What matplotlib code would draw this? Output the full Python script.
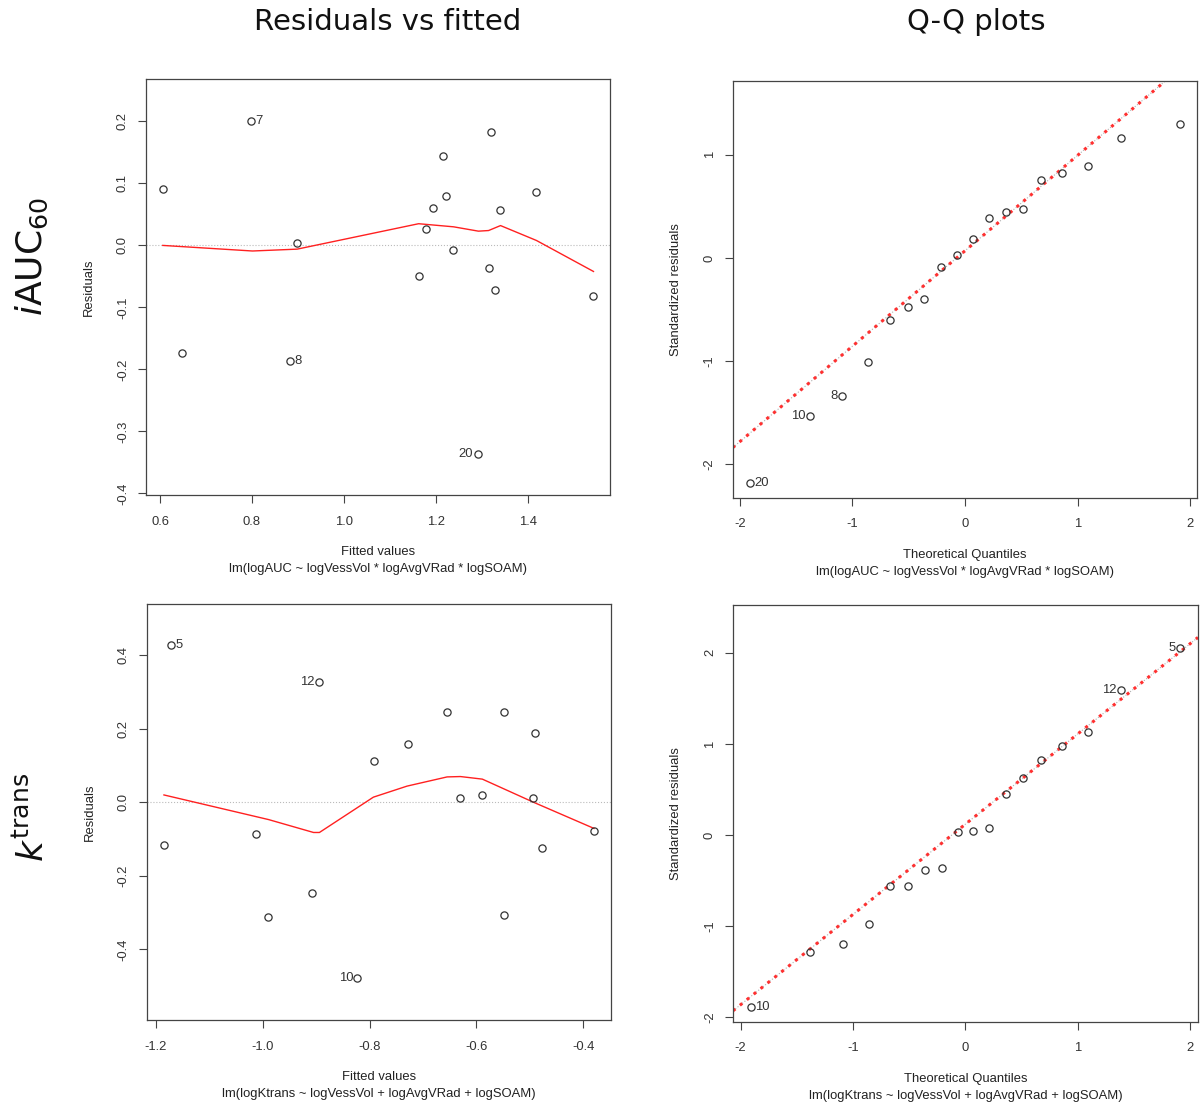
import numpy as np
import matplotlib
matplotlib.use('Agg')
import matplotlib.pyplot as plt
from matplotlib.ticker import FixedLocator, FormatStrFormatter

# iAUC60 model: fitted values, residuals and lowess smooth
auc_fitted = [0.606, 0.648, 0.798, 0.883, 0.898, 1.162, 1.177, 1.194, 1.216,
              1.221, 1.236, 1.290, 1.314, 1.320, 1.327, 1.339, 1.418, 1.542]
auc_resid = [0.091, -0.173, 0.200, -0.186, 0.004, -0.049, 0.026, 0.060, 0.144,
             0.079, -0.008, -0.336, -0.036, 0.183, -0.072, 0.057, 0.086, -0.081]
auc_smooth_x = [0.606, 0.801, 0.898, 1.162, 1.238, 1.292, 1.314, 1.340, 1.418, 1.542]
auc_smooth_y = [0.000, -0.009, -0.006, 0.035, 0.030, 0.023, 0.024, 0.032, 0.008, -0.042]
auc_resid_ids = [(2, '7', 'right'), (3, '8', 'right'), (11, '20', 'left')]

# iAUC60 model: normal Q-Q
theo_q = [-1.91, -1.38, -1.09, -0.86, -0.67, -0.51, -0.36, -0.21, -0.07,
          0.07, 0.21, 0.36, 0.51, 0.67, 0.86, 1.09, 1.38, 1.91]
auc_std_resid = [-2.178, -1.529, -1.333, -1.004, -0.600, -0.471, -0.400, -0.090, 0.026,
                 0.184, 0.387, 0.445, 0.474, 0.758, 0.823, 0.894, 1.159, 1.300]
auc_qq_line = (0.069, 0.925)  # intercept, slope
auc_qq_ids = [(0, '20', 'right'), (1, '10', 'left'), (2, '8', 'left')]

# Ktrans model: fitted values, residuals and lowess smooth
kt_fitted = [-1.171, -1.185, -1.012, -0.990, -0.908, -0.895, -0.823, -0.791, -0.728,
             -0.656, -0.630, -0.589, -0.548, -0.548, -0.490, -0.495, -0.477, -0.380]
kt_resid = [0.427, -0.117, -0.085, -0.313, -0.247, 0.326, -0.478, 0.112, 0.158,
            0.246, 0.011, 0.019, -0.307, 0.246, 0.188, 0.013, -0.125, -0.077]
kt_smooth_x = [-1.185, -0.989, -0.905, -0.894, -0.793, -0.730, -0.655, -0.630,
               -0.589, -0.493, -0.380]
kt_smooth_y = [0.020, -0.047, -0.082, -0.082, 0.014, 0.044, 0.069, 0.070,
               0.063, 0.000, -0.071]
kt_resid_ids = [(0, '5', 'right'), (5, '12', 'left'), (6, '10', 'left')]

# Ktrans model: normal Q-Q
kt_std_resid = [-1.882, -1.279, -1.199, -0.972, -0.556, -0.556, -0.384, -0.362, 0.033,
                0.050, 0.073, 0.453, 0.628, 0.829, 0.975, 1.129, 1.589, 2.053]
kt_qq_line = (0.12, 0.99)
kt_qq_ids = [(0, '10', 'right'), (16, '12', 'left'), (17, '5', 'left')]

auc_formula = 'lm(logAUC ~ logVessVol * logAvgVRad * logSOAM)'
kt_formula = 'lm(logKtrans ~ logVessVol + logAvgVRad + logSOAM)'

R_FONT = 'Liberation Sans'
INK = '#333333'
FS = 9.4


def style_axes(ax, xticks, yticks, xfmt, yfmt, xlim, ylim):
    ax.set_xlim(*xlim)
    ax.set_ylim(*ylim)
    for s in ax.spines.values():
        s.set_color('#444444')
        s.set_linewidth(0.9)
    ax.xaxis.set_major_locator(FixedLocator(xticks))
    ax.yaxis.set_major_locator(FixedLocator(yticks))
    ax.xaxis.set_major_formatter(FormatStrFormatter(xfmt))
    ax.yaxis.set_major_formatter(FormatStrFormatter(yfmt))
    ax.tick_params(axis='both', direction='out', length=5.8, width=0.8,
                   color='#444444', labelcolor=INK, labelsize=FS)
    ax.tick_params(axis='x', pad=9)
    ax.tick_params(axis='y', pad=6.5, labelrotation=90)
    for lab in ax.get_xticklabels() + ax.get_yticklabels():
        lab.set_fontfamily(R_FONT)
    for lab in ax.get_yticklabels():
        lab.set_verticalalignment('center')


def axis_titles(ax, xlab, sub, ylab):
    kw = dict(xycoords='axes fraction', textcoords='offset points',
              ha='center', va='center', fontsize=FS, color='#222222',
              family=R_FONT)
    ax.annotate(xlab, (0.5, 0), xytext=(0, -41), **kw)
    ax.annotate(sub, (0.5, 0), xytext=(0, -53.3), **kw)
    ax.annotate(ylab, (0, 0.5), xytext=(-41, 0), rotation=90, **kw)


def point_ids(ax, x, y, ids):
    for i, txt, side in ids:
        dx = 3 if side == 'right' else -3
        ax.annotate(txt, (x[i], y[i]), xytext=(dx, 0), textcoords='offset points',
                    ha='left' if side == 'right' else 'right', va='center',
                    fontsize=FS, color=INK, family=R_FONT)


def resid_panel(ax, fx, r, sx, sy, ids):
    ax.axhline(0, color='#bbbbbb', linestyle=':', linewidth=0.8, zorder=1)
    ax.plot(fx, r, 'o', mfc='none', mec=INK, ms=5.2, mew=0.9, zorder=3)
    ax.plot(sx, sy, '-', color='#ff2020', linewidth=1.0, zorder=2)
    point_ids(ax, fx, r, ids)


def qq_panel(ax, q, sr, line, ids):
    a, b = line
    ax.axline((0, a), slope=b, color='#b0b0b0', linestyle=':', linewidth=0.8, zorder=1)
    ax.axline((0, a), slope=b, color='#ff3030', linewidth=2.2,
              linestyle=(0, (1, 1.9)), zorder=2)
    ax.plot(q, sr, 'o', mfc='none', mec=INK, ms=5.2, mew=0.9, zorder=3)
    point_ids(ax, q, sr, ids)


fig = plt.figure(figsize=(12.03, 11.07), dpi=100)

ax_tl = fig.add_axes([0.1214, 0.5526, 0.3857, 0.3758])
ax_tr = fig.add_axes([0.6091, 0.5504, 0.3862, 0.3764])
ax_bl = fig.add_axes([0.1219, 0.0786, 0.3860, 0.3758])
ax_br = fig.add_axes([0.6093, 0.0771, 0.3865, 0.3764])

resid_panel(ax_tl, auc_fitted, auc_resid, auc_smooth_x, auc_smooth_y, auc_resid_ids)
style_axes(ax_tl, [0.6, 0.8, 1.0, 1.2, 1.4], [-0.4, -0.3, -0.2, -0.1, 0.0, 0.1, 0.2],
           '%.1f', '%.1f', (0.5696, 1.578), (-0.403, 0.268))
axis_titles(ax_tl, 'Fitted values', auc_formula, 'Residuals')

qq_panel(ax_tr, theo_q, auc_std_resid, auc_qq_line, auc_qq_ids)
style_axes(ax_tr, [-2, -1, 0, 1, 2], [-2, -1, 0, 1], '%d', '%d',
           (-2.062, 2.062), (-2.323, 1.713))
axis_titles(ax_tr, 'Theoretical Quantiles', auc_formula, 'Standardized residuals')

resid_panel(ax_bl, kt_fitted, kt_resid, kt_smooth_x, kt_smooth_y, kt_resid_ids)
style_axes(ax_bl, [-1.2, -1.0, -0.8, -0.6, -0.4], [-0.4, -0.2, 0.0, 0.2, 0.4],
           '%.1f', '%.1f', (-1.2174, -0.3482), (-0.5916, 0.539))
axis_titles(ax_bl, 'Fitted values', kt_formula, 'Residuals')

qq_panel(ax_br, theo_q, kt_std_resid, kt_qq_line, kt_qq_ids)
style_axes(ax_br, [-2, -1, 0, 1, 2], [-2, -1, 0, 1, 2], '%d', '%d',
           (-2.068, 2.069), (-2.046, 2.524))
axis_titles(ax_br, 'Theoretical Quantiles', kt_formula, 'Standardized residuals')

# column headings and row labels
fig.text(388 / 1203, 1 - 22 / 1107, 'Residuals vs fitted', ha='center', va='center',
         fontsize=21, family='DejaVu Sans', color='#111111')
fig.text(976 / 1203, 1 - 22 / 1107, 'Q-Q plots', ha='center', va='center',
         fontsize=21, family='DejaVu Sans', color='#111111')
fig.text(32 / 1203, 1 - 256 / 1107, r'$\mathit{i}\mathrm{AUC}_{60}$', rotation=90,
         ha='center', va='center', fontsize=26, color='#111111')
fig.text(33 / 1203, 1 - 817 / 1107, r'$\mathit{k}^{\mathrm{trans}}$', rotation=90,
         ha='center', va='center', fontsize=26, color='#111111')

fig.savefig('out.png', dpi=100)
